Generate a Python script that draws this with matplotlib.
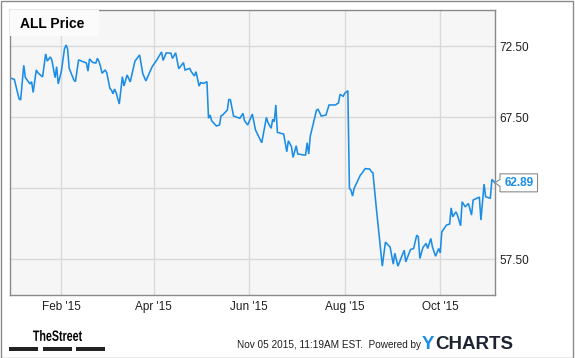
import matplotlib
matplotlib.use("Agg")
import pandas as pd
import matplotlib.pyplot as plt
import matplotlib.dates as mdates
from matplotlib.patches import Rectangle, Polygon, PathPatch
from matplotlib.textpath import TextPath
from matplotlib.font_manager import FontProperties
from matplotlib.transforms import Affine2D, IdentityTransform

# days since 2015-01-01 and the ALL close
day = [
    -1, 1, 4, 5, 7, 8, 11, 12, 13, 15,
    16, 19, 21, 22, 24, 25, 27, 28, 29, 31,
    33, 34, 35, 36, 39, 40, 42, 47, 48, 49,
    51, 53, 54, 55, 56, 57, 59, 60, 62, 63,
    64, 65, 66, 68, 70, 71, 73, 75, 78, 81,
    83, 85, 89, 92, 95, 96, 98, 101, 102, 104,
    106, 107, 109, 110, 113, 114, 116, 117, 119, 120,
    122, 124, 125, 126, 127, 130, 132, 133, 134, 137,
    138, 139, 141, 145, 147, 148, 150, 153, 155, 159,
    162, 163, 165, 166, 167, 168, 169, 173, 175, 176,
    178, 179, 181, 182, 186, 187, 188, 189, 190, 194,
    195, 197, 200, 202, 206, 208, 209, 211, 212, 214,
    215, 216, 217, 218, 222, 223, 225, 228, 229, 230,
    232, 236, 238, 241, 243, 244, 246, 250, 251, 254,
    256, 258, 259, 260, 262, 264, 265, 267, 268, 270,
    272, 273, 274, 277, 279, 280, 281, 283, 284, 286,
    287, 289, 291, 293, 294, 297, 298, 299, 301, 302,
    305, 306, 308,
]
price = [
    70.25, 70.16, 68.80, 68.72, 71.16, 70.30, 69.85, 70.01, 69.25, 70.83,
    70.64, 70.34, 71.96, 71.46, 71.75, 71.50, 70.29, 71.06, 69.85, 70.73,
    72.31, 72.59, 72.31, 70.95, 70.13, 70.01, 71.54, 71.32, 70.75, 71.61,
    71.36, 71.32, 71.65, 71.43, 71.08, 70.60, 70.83, 70.64, 69.54, 69.42,
    69.16, 69.49, 69.23, 68.44, 70.36, 69.70, 70.48, 69.99, 71.45, 71.89,
    70.58, 70.06, 71.06, 71.54, 72.10, 71.50, 72.03, 72.01, 71.64, 72.04,
    70.92, 71.06, 71.35, 70.83, 70.94, 70.71, 70.41, 70.71, 69.70, 69.94,
    69.89, 70.01, 67.43, 67.66, 67.26, 66.89, 66.96, 67.61, 67.66, 68.01,
    68.77, 68.72, 67.59, 67.43, 67.78, 67.26, 66.96, 67.73, 66.61, 65.71,
    67.50, 67.12, 66.73, 67.36, 67.19, 68.37, 66.44, 66.32, 65.08, 65.85,
    65.43, 64.68, 65.50, 64.92, 64.85, 64.85, 65.71, 64.92, 66.18, 68.01,
    68.06, 67.59, 67.66, 68.37, 68.37, 68.51, 69.11, 68.98, 69.19, 69.37,
    62.50, 62.38, 61.96, 62.50, 63.44, 63.56, 63.89, 63.86, 63.67, 63.61,
    61.32, 57.03, 58.72, 58.37, 57.17, 57.94, 57.03, 58.15, 57.33, 58.20,
    58.27, 59.21, 59.09, 57.57, 58.35, 58.63, 58.27, 58.98, 58.39, 57.73,
    58.27, 57.96, 59.44, 59.92, 59.99, 61.13, 60.50, 60.85, 60.62, 59.87,
    61.56, 61.20, 61.44, 60.62, 61.68, 61.84, 61.87, 60.27, 62.80, 61.91,
    61.80, 63.13, 62.89,
]
yticks = [57.5, 62.5, 67.5, 72.5]
ytick_labels = ["57.50", "", "67.50", "72.50"]
title = "ALL Price"
stamp = "Nov 05 2015, 11:19AM EST.  Powered by"

colors = {
    "line": "#1b8de6",
    "panel": "#f6f6f6",
    "title_bg": "#fbfbfb",
    "grid": "#d9d9d9",
    "border": "#8a8a8a",
    "text": "#1e1e1e",
    "navy": "#1c2331",
}

plt.rcParams["font.family"] = ["Liberation Sans", "DejaVu Sans"]

W, H = 575, 358
fig = plt.figure(figsize=(W / 100, H / 100), dpi=100, facecolor="white")
ax = fig.add_axes([10 / W, 63 / H, 484.7 / W, 285 / H])
ax.set_facecolor(colors["panel"])

dates = pd.Timestamp("2015-01-01") + pd.to_timedelta(day, unit="D")
ax.plot(dates, price, color=colors["line"], lw=1.15, solid_joinstyle="miter")

ax.set_xlim(pd.Timestamp("2014-12-30 05:00"), pd.Timestamp("2015-11-04 19:00"))
ax.set_ylim(55, 75.05)

ax.xaxis.set_major_locator(mdates.MonthLocator(bymonth=[2, 4, 6, 8, 10]))
ax.xaxis.set_major_formatter(mdates.DateFormatter("%b '%y"))
ax.yaxis.tick_right()
ax.set_yticks(yticks)
ax.set_yticklabels(ytick_labels)
ax.tick_params(length=0, labelsize=8.5, colors=colors["text"])
ax.tick_params(axis="y", pad=3.3)
ax.tick_params(axis="x", pad=4)
ax.grid(True, color=colors["grid"], lw=1.0)
ax.set_axisbelow(True)
for spine in ax.spines.values():
    spine.set_color(colors["border"])
    spine.set_linewidth(1.0)

# title chip in the top-left corner
ax.add_patch(Rectangle((0, 1 - 26 / 285), 89 / 484.7, 26 / 285, transform=ax.transAxes,
                       facecolor=colors["title_bg"], edgecolor="none", zorder=3))
ax.text(10 / 484.7, 1 - 13.5 / 285, title, transform=ax.transAxes, ha="left", va="center",
        fontsize=10, weight="bold", color="black", zorder=4)

# last-value flag on the right edge
x_end, y_end = ax.transData.transform((mdates.date2num(dates[-1].to_pydatetime()), price[-1]))
bl, br = x_end + 5, x_end + 42.5
flag = [(x_end, y_end), (bl, y_end - 3.5), (bl, y_end - 9), (br, y_end - 9),
        (br, y_end + 9), (bl, y_end + 9), (bl, y_end + 3.5)]
fig.patches.append(Polygon(flag, closed=True, transform=IdentityTransform(),
                           facecolor="white", edgecolor=colors["border"], lw=0.8))
fx, fy = fig.transFigure.inverted().transform(((bl + br) / 2, y_end))
fig.text(fx, fy, f"{price[-1]:.2f}", ha="center", va="center", fontsize=8.5,
         weight="bold", color=colors["line"])

# footer: TheStreet mark
logo = TextPath((0, 0), "TheStreet", size=16,
                prop=FontProperties(family="Liberation Sans", weight="bold"))
ext = logo.get_extents()
sx = (82 - 33) / ext.width
sy = (28 - 17) / ext.height
logo = Affine2D().translate(-ext.x0, -ext.y0).scale(sx, sy).translate(33, 17).transform_path(logo)
fig.patches.append(PathPatch(logo, transform=IdentityTransform(), facecolor="black",
                             edgecolor="none"))
for x0, x1 in [(9, 38.3), (42.7, 71.7), (76, 105.3)]:
    fig.patches.append(Rectangle((x0, 7.3), x1 - x0, 3.4, transform=IdentityTransform(),
                                 facecolor="#222222", edgecolor="none"))

fig.text(237 / W, 13 / H, stamp, ha="left", va="center", fontsize=7.2, color=colors["text"])

y_mark = fig.text(422 / W, 9.3 / H, "Y", ha="left", va="baseline", fontsize=13.5,
                  weight="bold", color=colors["line"])
ax.annotate("CHARTS", xy=(1, 0), xycoords=y_mark, xytext=(0.6, 0), textcoords="offset points",
            ha="left", va="bottom", fontsize=13.5, weight="bold", color=colors["navy"],
            annotation_clip=False)

# outer frame
fig.patches.append(Rectangle((0.5, 0.5), 572.5, 357, transform=IdentityTransform(),
                             facecolor="none", edgecolor=colors["border"], lw=1.0))

fig.savefig("out.png", dpi=100, facecolor="white")
